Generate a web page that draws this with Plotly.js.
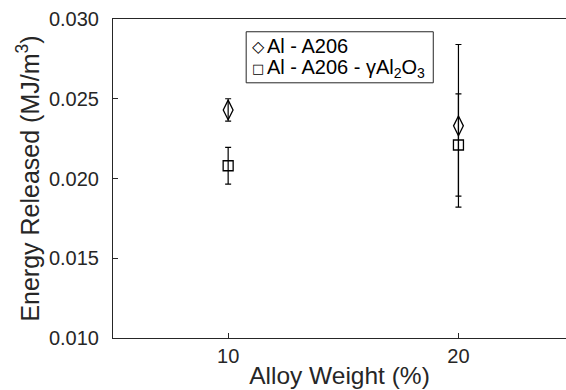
<!DOCTYPE html>
<html>
<head>
<meta charset="utf-8">
<script src="https://cdn.plot.ly/plotly-3.0.1.min.js"></script>
<style>html,body{margin:0;padding:0;background:#fff;}#chart{width:566px;height:390px;}</style>
</head>
<body>
<div id="chart"></div>
<script>
// Data
const alloyWeight = [10, 20];
const seriesNames = ["Al - A206", "Al - A206 - γAl<sub>2</sub>O<sub>3</sub>"];
const energyA206 = [0.0243, 0.0233];
const errA206 = [0.0007, 0.0051];
const energyA206Al2O3 = [0.0208, 0.0221];
const errA206Al2O3 = [0.00115, 0.0032];
const xTickVals = [10, 20];
const yTickVals = [0.010, 0.015, 0.020, 0.025, 0.030];
const legendSymbols = ["\u25C7", "\u25A1"];

const ink = '#262626';
const fontFam = '"Liberation Sans", Arial, Helvetica, sans-serif';

const traces = [
  {
    x: alloyWeight, y: energyA206, name: seriesNames[0], type: 'scatter', mode: 'markers',
    showlegend: false,
    marker: {symbol: 'diamond-tall-open', size: 14, color: '#000', line: {width: 1.3, color: '#000'}},
    error_y: {type: 'data', array: errA206, visible: true, color: '#000', thickness: 1.2, width: 3}
  },
  {
    x: alloyWeight, y: energyA206Al2O3, name: seriesNames[1], type: 'scatter', mode: 'markers',
    showlegend: false,
    marker: {symbol: 'square-open', size: 10, color: '#000', line: {width: 1.3, color: '#000'}},
    error_y: {type: 'data', array: errA206Al2O3, visible: true, color: '#000', thickness: 1.2, width: 3}
  }
];

// Legend box (paper coords)
const legL = 0.294, legR = 0.707, legT = 0.96, legB = 0.80;
const rowY = [0.915, 0.845];
const annotations = [];
seriesNames.forEach((n, i) => {
  annotations.push({
    xref: 'paper', yref: 'paper', x: legL + 0.008, y: rowY[i], xanchor: 'left', yanchor: 'middle',
    text: legendSymbols[i], showarrow: false,
    font: {family: '"DejaVu Sans", sans-serif', size: i === 0 ? 16 : 13, color: '#000'}
  });
  annotations.push({
    xref: 'paper', yref: 'paper', x: legL + 0.042, y: rowY[i], xanchor: 'left', yanchor: 'middle',
    text: n, showarrow: false,
    font: {family: fontFam, size: 20, color: '#000'}
  });
});

const layout = {
  width: 566, height: 390,
  margin: {l: 113, r: 0, t: 19, b: 52, pad: 0},
  paper_bgcolor: '#fff', plot_bgcolor: '#fff',
  font: {family: fontFam, color: ink, size: 20},
  showlegend: false,
  shapes: [{
    type: 'rect', xref: 'paper', yref: 'paper', x0: legL, x1: legR, y0: legB, y1: legT,
    line: {color: ink, width: 1}, fillcolor: '#fff', layer: 'above'
  }],
  annotations: annotations,
  xaxis: {
    range: [5, 24.67], tickvals: xTickVals, ticktext: xTickVals.map(String),
    ticks: 'inside', ticklen: 5, tickcolor: ink, tickwidth: 1,
    showline: true, linecolor: ink, linewidth: 1, mirror: true,
    showgrid: false, zeroline: false,
    tickfont: {size: 20, color: ink},
    title: {text: 'Alloy Weight (%)', font: {size: 24.5, color: ink}, standoff: 0}
  },
  yaxis: {
    range: [0.010, 0.030], tickvals: yTickVals, tickformat: '.3f',
    ticks: 'inside', ticklen: 5, tickcolor: ink, tickwidth: 1,
    showline: true, linecolor: ink, linewidth: 1, mirror: false,
    showgrid: false, zeroline: false, ticklabelstandoff: 9,
    tickfont: {size: 20, color: ink},
    title: {text: 'Energy Released (MJ/m<sup>3</sup>)', font: {size: 25, color: ink}, standoff: 2}
  }
};

Plotly.newPlot('chart', traces, layout, {displayModeBar: false, staticPlot: true});
</script>
</body>
</html>
